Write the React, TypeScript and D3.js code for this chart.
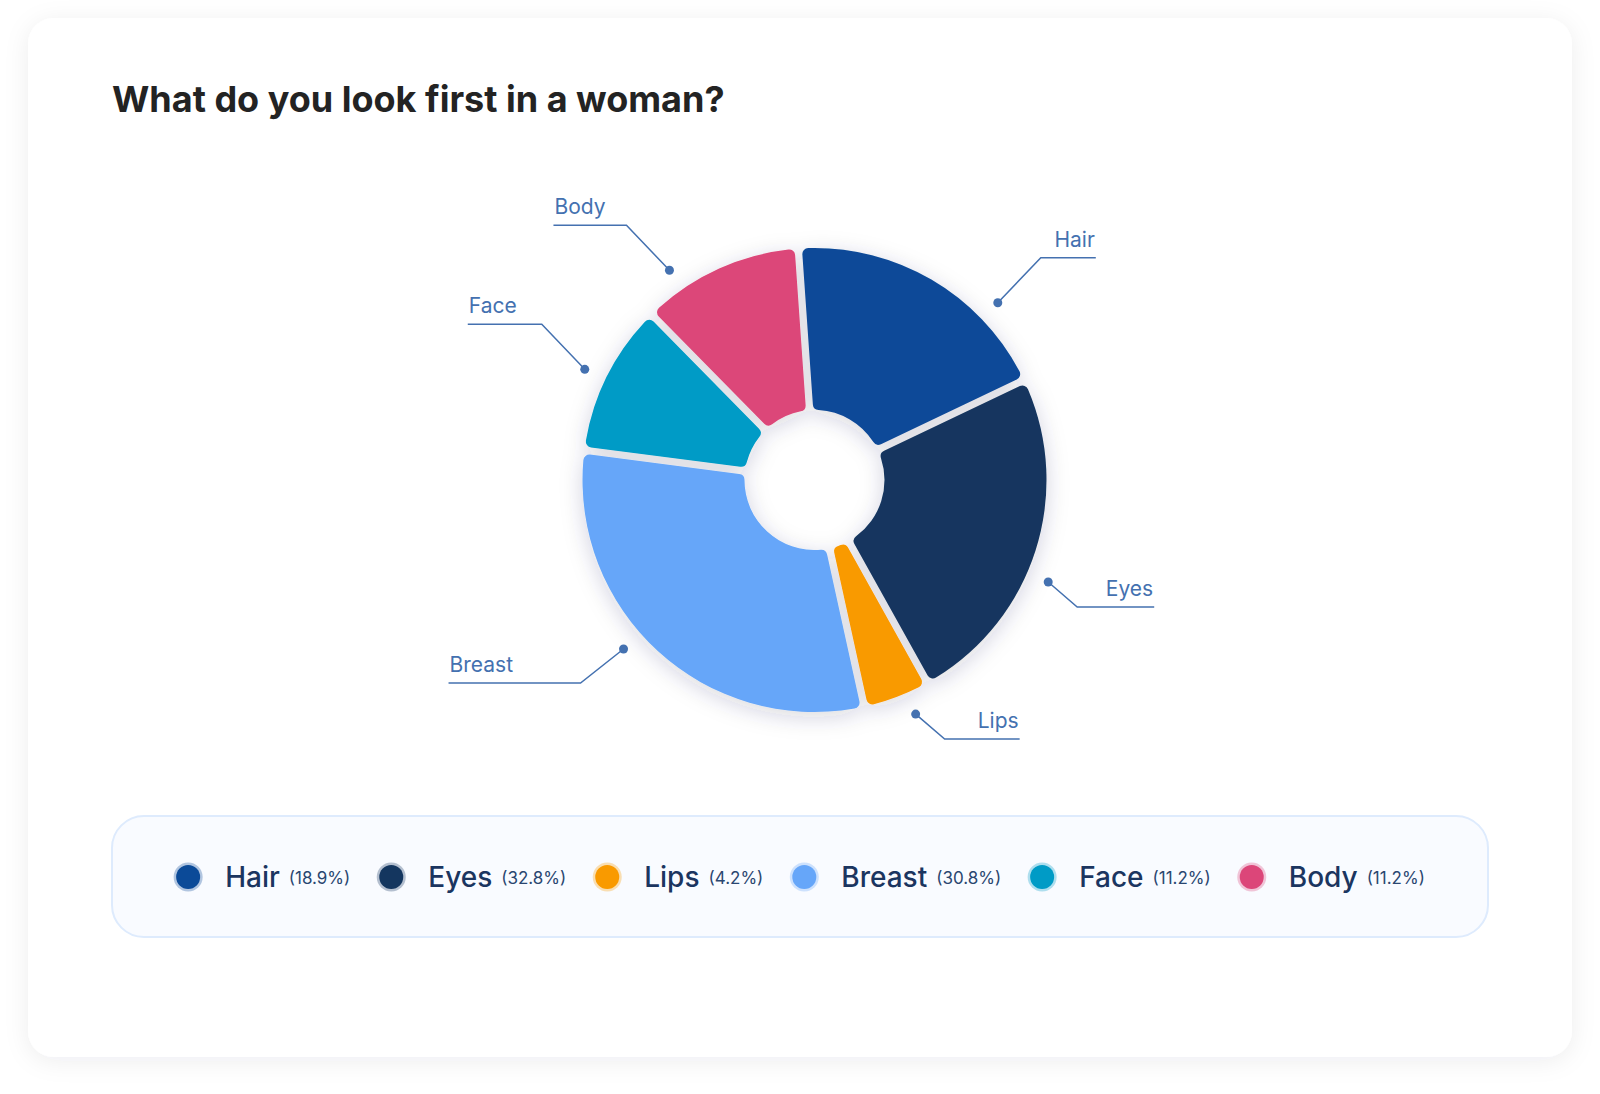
import * as d3 from 'd3';
import React, { useEffect, useRef } from 'react';

const categories = ['Hair', 'Eyes', 'Lips', 'Breast', 'Face', 'Body'];
// slice sizes
const sliceValues = [19.1, 24.2, 4.3, 30.9, 10.4, 11.1];
// shares printed in the legend (as shown in the original)
const legendShares = ['18.9%', '32.8%', '4.2%', '30.8%', '11.2%', '11.2%'];
const sliceColors = ['#0b4a98', '#14365f', '#f99a00', '#66a6f9', '#009bc6', '#dc4679'];
// callout tweaks: angular nudge (deg) and length of the flat leader line
const labelShift = [15.7, 5.9, -2.6, 6, -0.7, -10.4];
const leaderLength = [55, 77, 75, 132, 74, 73];

const W = 1600;
const H = 1094;

const App: React.FC = () => {
    const ref = useRef<SVGSVGElement | null>(null);

    useEffect(() => {
        const svg = d3.select(ref.current).attr('width', W).attr('height', H);
        svg.selectAll('*').remove();

        const defs = svg.append('defs');
        defs.append('filter')
            .attr('id', 'cardShadow')
            .attr('x', '-10%').attr('y', '-10%').attr('width', '120%').attr('height', '120%')
            .append('feDropShadow')
            .attr('dx', 0).attr('dy', 4).attr('stdDeviation', 12)
            .attr('flood-color', '#1d2b4f').attr('flood-opacity', 0.07);
        defs.append('filter')
            .attr('id', 'pieShadow')
            .attr('x', '-30%').attr('y', '-30%').attr('width', '160%').attr('height', '160%')
            .append('feDropShadow')
            .attr('dx', 0).attr('dy', 5).attr('stdDeviation', 11)
            .attr('flood-color', '#1d2b4f').attr('flood-opacity', 0.18);

        svg.append('rect').attr('width', W).attr('height', H).attr('fill', '#ffffff');

        // card
        svg.append('rect')
            .attr('x', 28).attr('y', 18)
            .attr('width', 1544).attr('height', 1039)
            .attr('rx', 26)
            .attr('fill', '#ffffff')
            .attr('filter', 'url(#cardShadow)');

        svg.append('text')
            .attr('x', 112).attr('y', 112)
            .style('font-family', 'Inter, sans-serif')
            .style('font-size', '36px')
            .style('font-weight', 700)
            .attr('fill', '#232323')
            .text('What do you look first in a woman?');

        // pie
        const cx = 814.5;
        const cy = 480;
        const outerR = 232;
        const innerR = 70;
        const deg = Math.PI / 180;

        const pie = d3.pie<number>()
            .sort(null)
            .value((d) => d)
            .startAngle(-4 * deg)
            .endAngle(356 * deg)
            .padAngle(0.03);
        const arcs = pie(sliceValues);

        const arc = d3.arc<d3.PieArcDatum<number>>()
            .innerRadius(innerR)
            .outerRadius(outerR)
            .cornerRadius(6);

        const chart = svg.append('g').attr('transform', `translate(${cx}, ${cy})`);
        chart.append('g')
            .attr('filter', 'url(#pieShadow)')
            .selectAll('path')
            .data(arcs)
            .join('path')
            .attr('d', arc)
            .attr('fill', (_, i) => sliceColors[i]);

        // callouts
        const labelColor = '#4471b0';
        const dotR = 255;
        const callouts = chart.append('g');
        arcs.forEach((a, i) => {
            const ang = (a.startAngle + a.endAngle) / 2 + labelShift[i] * deg;
            const px = dotR * Math.sin(ang);
            const py = -dotR * Math.cos(ang);
            const sx = px >= 0 ? 1 : -1;
            const upper = py < 0;
            const ex = px + sx * (upper || sx < 0 ? 43 : 29);
            const ey = py + (upper ? -45 : sx > 0 ? 25 : 34);
            const lx = ex + sx * leaderLength[i];

            callouts.append('path')
                .attr('d', d3.line()([[px, py], [ex, ey], [lx, ey]]))
                .attr('fill', 'none')
                .attr('stroke', labelColor)
                .attr('stroke-width', 1.5);
            callouts.append('circle')
                .attr('cx', px).attr('cy', py).attr('r', 4.5)
                .attr('fill', labelColor);
            callouts.append('text')
                .attr('x', lx - sx * 1)
                .attr('y', ey - 11)
                .attr('text-anchor', sx > 0 ? 'end' : 'start')
                .style('font-family', 'Inter, sans-serif')
                .style('font-size', '21px')
                .attr('fill', labelColor)
                .text(categories[i]);
        });

        // legend box
        svg.append('rect')
            .attr('x', 112).attr('y', 816)
            .attr('width', 1376).attr('height', 121)
            .attr('rx', 32)
            .attr('fill', '#f9fbff')
            .attr('stroke', '#deebfd')
            .attr('stroke-width', 2);

        const legend = svg.append('g');
        const ly = 877;
        const gap = 41;
        let x = 0;
        categories.forEach((name, i) => {
            const item = legend.append('g').attr('transform', `translate(${x}, ${ly})`);
            item.append('circle').attr('r', 14.5)
                .attr('fill', sliceColors[i]).attr('opacity', 0.3);
            item.append('circle').attr('r', 12)
                .attr('fill', sliceColors[i]);
            const label = item.append('text')
                .attr('x', 37).attr('y', 10)
                .style('font-family', 'Inter, sans-serif')
                .style('font-size', '28px')
                .style('font-weight', 500)
                .attr('fill', '#1b3560')
                .text(name);
            const lw = (label.node() as SVGTextElement).getComputedTextLength();
            const share = item.append('text')
                .attr('x', 37 + lw + 9).attr('y', 7)
                .style('font-family', 'Inter, sans-serif')
                .style('font-size', '17px')
                .attr('fill', '#2a4670')
                .text(`(${legendShares[i]})`);
            const sw = (share.node() as SVGTextElement).getComputedTextLength();
            x += 37 + lw + 9 + sw + gap;
        });
        const total = x - gap + 13;
        legend.attr('transform', `translate(${800 - total / 2 + 13}, 0)`);
    }, []);

    return (
        <svg
            ref={ref}
            style={{ position: 'absolute', left: 0, top: 0, display: 'block' }}
        ></svg>
    );
};

export default App;
